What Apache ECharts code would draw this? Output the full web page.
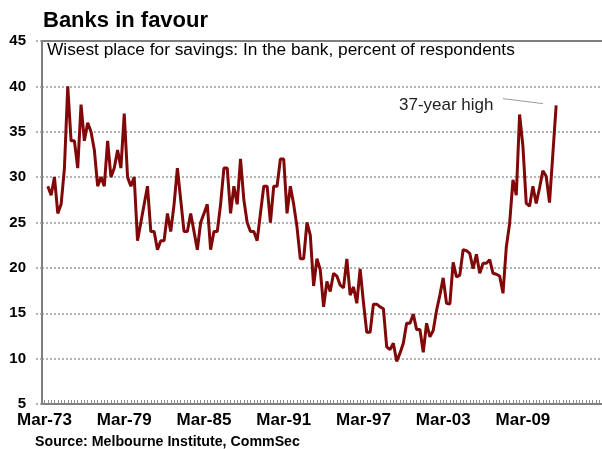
<!DOCTYPE html>
<html><head><meta charset="utf-8">
<script src="https://cdn.jsdelivr.net/npm/echarts@6/dist/echarts.min.js"></script>
<style>html,body{margin:0;padding:0;background:#fff}#c{width:602px;height:449px}</style>
</head><body><div id="c"></div>
<script>
const titleText = 'Banks in favour';
const subtitleText = 'Wisest place for savings: In the bank, percent of respondents';
const sourceText = 'Source: Melbourne Institute, CommSec';
const annotationText = '37-year high';

// Quarterly survey values (percent), first observation Jun-73 (decimal year, Mar = .00)
const firstQuarter = 1973.25;
const values = [
  29,28,30,26,27,31,40,34,34,31,38,34,36,35,33,29,30,29,34,30,
  31,33,31,37,30,29,30,23,25,27,29,24,24,22,23,23,26,24,27,31,
  27.5,24,24,26,24,22,25,26,27,22,24,24,27,31,31,26,29,27,32,27.5,
  25,24,24,23,26,29,29,25,29,29,32,32,26,29,27,24.5,21,21,25,23.6,
  18,21,19.8,15.7,18.5,17.4,19.4,19.1,18.1,17.8,21,17,17.9,16.1,19.9,16.2,12.9,12.9,16,16,
  15.7,15.5,11.3,11,11.7,9.7,10.6,11.7,13.9,13.9,14.9,13.2,13.2,10.7,13.9,12.4,13.1,15.3,17,18.9,
  16.1,16,20.6,19,19.2,22,21.9,21.6,19.9,21.5,19.4,20.5,20.5,20.9,19.4,19.3,19.1,17.2,22.3,24.9,
  29.7,28,36.9,33.4,27.1,26.8,29,27.1,28.8,30.7,30.1,27.2,32.5,37.9
];
const xLabelYears = [1973, 1979, 1985, 1991, 1997, 2003, 2009];
const yMin = 5, yMax = 45, yStep = 5;
// annotation pointer (decimal year, percent)
const pointerFrom = [2007.5, 38.65];
const pointerTo = [2010.5, 38.1];

const seriesData = values.map((v, k) => [firstQuarter + k * 0.25, v]);
const quarterTicks = [];
for (let t = 1973; t <= 2014.9; t += 0.25) quarterTicks.push(t);

const FONT = "'Liberation Sans', Arial, sans-serif";
const chart = echarts.init(document.getElementById('c'), null, {renderer: 'canvas'});
chart.setOption({
  animation: false,
  backgroundColor: '#fff',
  grid: {left: 42, right: 0, top: 41, bottom: 45, containLabel: false},
  xAxis: [{
    type: 'value',
    min: 1972.812, max: 2014.95,
    axisLine: {show: true, lineStyle: {color: '#7f7f7f', width: 2}},
    axisTick: {show: true, inside: true, length: 4, customValues: quarterTicks,
               lineStyle: {color: '#8a8a8a', width: 1}},
    axisLabel: {show: true, customValues: xLabelYears, margin: 8,
                formatter: v => 'Mar-' + String(Math.round(v)).slice(2),
                color: '#000', fontFamily: FONT, fontWeight: 'bold', fontSize: 17},
    splitLine: {show: false}
  }, {
    type: 'value', position: 'top',
    min: 1972.812, max: 2014.95,
    axisLine: {show: true, onZero: false, lineStyle: {color: '#7f7f7f', width: 2}},
    axisTick: {show: false}, axisLabel: {show: false}, splitLine: {show: false}
  }],
  yAxis: {
    type: 'value', min: yMin, max: yMax, interval: yStep,
    axisLine: {show: true, lineStyle: {color: '#7f7f7f', width: 2}},
    axisTick: {show: true, inside: false, length: 7, lineStyle: {color: '#999', type: [2, 2], width: 1.5}},
    axisLabel: {margin: 16, color: '#000', fontFamily: FONT, fontWeight: 'bold', fontSize: 15},
    splitLine: {show: true, lineStyle: {color: '#9a9a9a', type: [2, 2], width: 1.5}}
  },
  series: [{
    type: 'line',
    data: seriesData,
    showSymbol: false,
    symbol: 'none',
    lineStyle: {color: '#800808', width: 3},
    markLine: {
      silent: true, symbol: ['none', 'none'],
      label: {show: false},
      lineStyle: {color: '#9a9a9a', width: 1, type: 'solid'},
      data: [[{coord: pointerFrom}, {coord: pointerTo}]]
    },
    z: 3
  }],
  graphic: [
    {type: 'text', x: 43, y: 21, style: {text: titleText, font: "bold 22px " + FONT, fill: '#000', verticalAlign: 'middle'}},
    {type: 'text', x: 47, y: 50.5, style: {text: subtitleText, font: "17.3px " + FONT, fill: '#000', verticalAlign: 'middle'}},
    {type: 'text', x: 399, y: 105, style: {text: annotationText, font: "17px " + FONT, fill: '#222', verticalAlign: 'middle'}},
    {type: 'text', x: 35, y: 442, style: {text: sourceText, font: "bold 14.2px " + FONT, fill: '#000', verticalAlign: 'middle'}}
  ]
});
</script></body></html>
